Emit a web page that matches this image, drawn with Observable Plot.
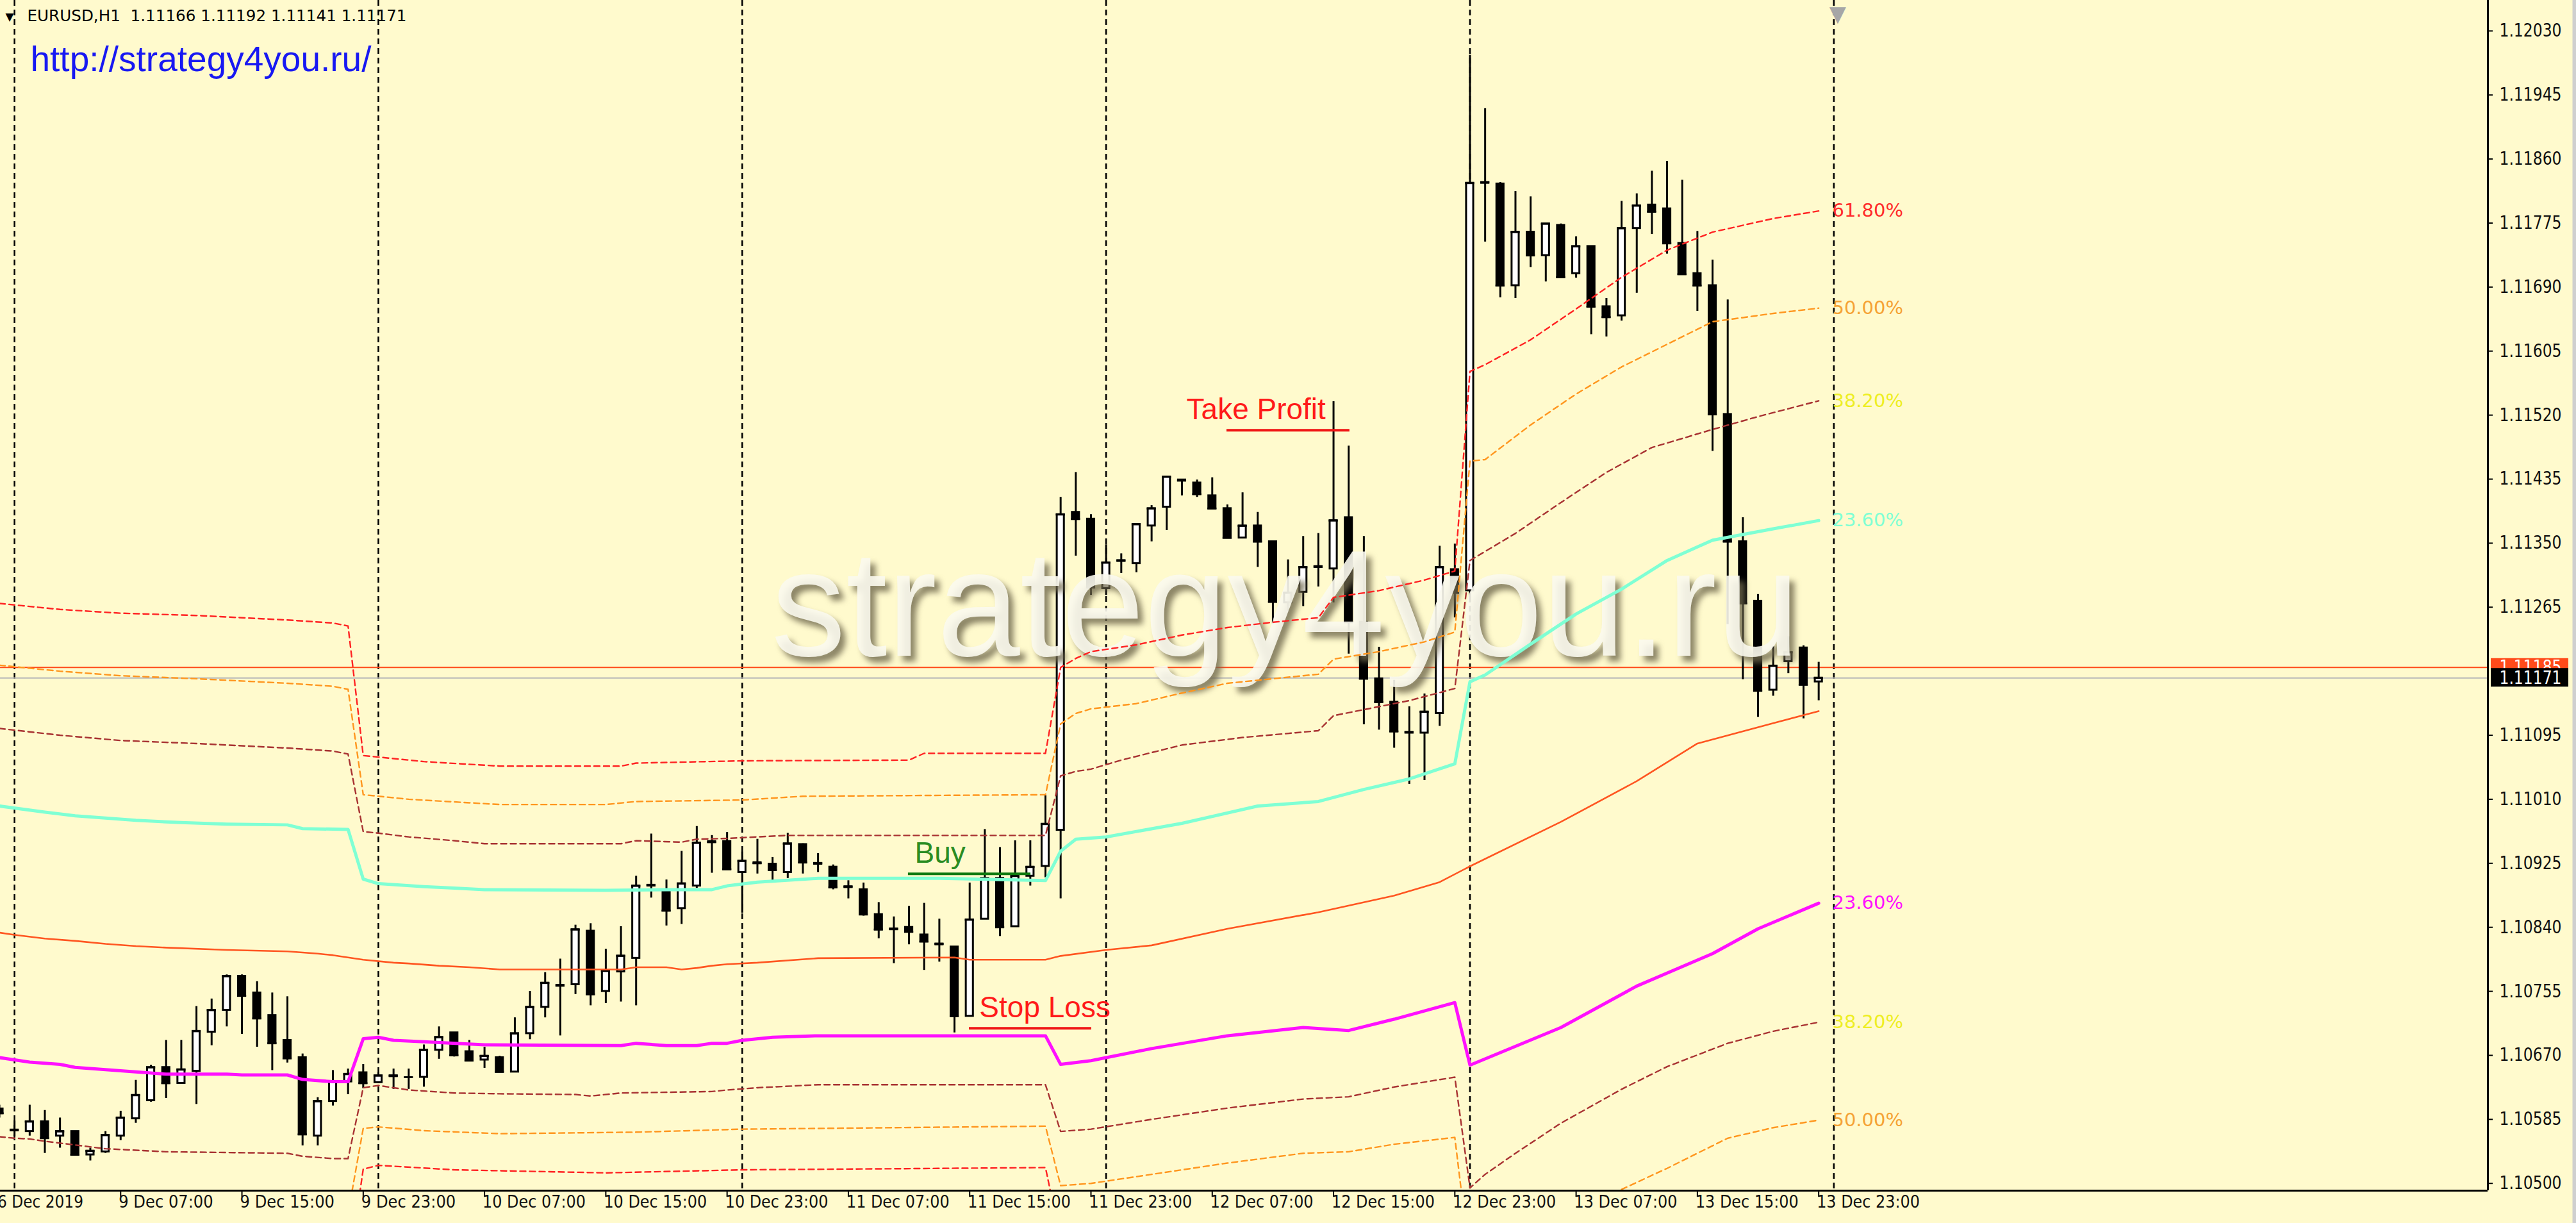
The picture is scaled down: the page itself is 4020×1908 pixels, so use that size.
<!DOCTYPE html>
<html><head><meta charset="utf-8">
<script src="https://cdn.jsdelivr.net/npm/d3@7"></script>
<script src="https://cdn.jsdelivr.net/npm/@observablehq/plot@0.6"></script>
<style>
html,body{margin:0;padding:0;background:#FFFACD;}
#chart{width:4020px;height:1908px;overflow:hidden;}
</style></head><body><div id="chart"></div>
<script>
// ---- time axis ----
const timeTickBars = [0,8,16,24,32,40,48,56,64,72,80,88,96,104,112,120];
const timeLabels = ["6 Dec 2019","9 Dec 07:00","9 Dec 15:00","9 Dec 23:00","10 Dec 07:00","10 Dec 15:00","10 Dec 23:00","11 Dec 07:00","11 Dec 15:00","11 Dec 23:00","12 Dec 07:00","12 Dec 15:00","12 Dec 23:00","13 Dec 07:00","13 Dec 15:00","13 Dec 23:00"];
const daySeparatorBars = [1,25,49,73,97,121];
// ---- price axis ----
const priceTicks = [1.12030,1.11945,1.11860,1.11775,1.11690,1.11605,1.11520,1.11435,1.11350,1.11265,1.11095,1.11010,1.10925,1.10840,1.10755,1.10670,1.10585,1.10500];
const askPrice = 1.11185;
const bidPrice = 1.11171;
// ---- candles (EURUSD H1) ----
const open = [1.10599,1.10570,1.10569,1.10582,1.10563,1.10569,1.10538,1.10542,1.10563,1.10586,
1.10610,1.10654,1.10633,1.10649,1.10701,1.10730,1.10775,1.10753,1.10723,1.10690,
1.10667,1.10563,1.10609,1.10635,1.10647,1.10634,1.10642,1.10641,1.10641,1.10677,
1.10700,1.10675,1.10664,1.10667,1.10648,1.10699,1.10734,1.10762,1.10764,1.10835,
1.10755,1.10781,1.10799,1.10895,1.10888,1.10865,1.10895,1.10954,1.10954,1.10913,
1.10926,1.10924,1.10913,1.10950,1.10924,1.10920,1.10893,1.10890,1.10857,1.10837,
1.10840,1.10830,1.10817,1.10814,1.10722,1.10851,1.10905,1.10841,1.10908,1.10921,
1.10969,1.11391,1.11382,1.11290,1.11326,1.11323,1.11373,1.11398,1.11434,1.11430,
1.11413,1.11396,1.11357,1.11373,1.11352,1.11271,1.11285,1.11318,1.11316,1.11384,
1.11245,1.11170,1.11139,1.11098,1.11098,1.11124,1.11315,1.11287,1.11828,1.11827,
1.11692,1.11763,1.11732,1.11772,1.11708,1.11744,1.11664,1.11652,1.11768,1.11799,
1.11794,1.11748,1.11708,1.11692,1.11521,1.11352,1.11273,1.11155,1.11193,1.11211,
1.11166];
const high = [1.10604,1.10583,1.10604,1.10597,1.10587,1.10569,1.10547,1.10569,1.10596,1.10637,
1.10657,1.10690,1.10690,1.10735,1.10745,1.10777,1.10777,1.10768,1.10753,1.10748,
1.10672,1.10614,1.10650,1.10652,1.10658,1.10647,1.10652,1.10652,1.10684,1.10708,
1.10700,1.10690,1.10681,1.10669,1.10720,1.10755,1.10780,1.10798,1.10843,1.10845,
1.10811,1.10841,1.10908,1.10964,1.10903,1.10941,1.10974,1.10962,1.10966,1.10940,
1.10957,1.10933,1.10965,1.10951,1.10938,1.10923,1.10902,1.10899,1.10873,1.10854,
1.10868,1.10872,1.10851,1.10814,1.10899,1.10970,1.10946,1.10955,1.10955,1.11015,
1.11411,1.11444,1.11388,1.11348,1.11336,1.11375,1.11400,1.11438,1.11434,1.11434,
1.11437,1.11401,1.11417,1.11391,1.11352,1.11328,1.11359,1.11363,1.11538,1.11479,
1.11359,1.11212,1.11168,1.11133,1.11150,1.11346,1.11349,1.11998,1.11927,1.11829,
1.11817,1.11810,1.11774,1.11774,1.11757,1.11744,1.11675,1.11804,1.11814,1.11844,
1.11857,1.11832,1.11764,1.11726,1.11673,1.11384,1.11282,1.11213,1.11226,1.11214,
1.11192];
const low = [1.10587,1.10562,1.10563,1.10540,1.10547,1.10538,1.10530,1.10540,1.10557,1.10580,
1.10608,1.10613,1.10633,1.10605,1.10683,1.10708,1.10698,1.10681,1.10650,1.10660,
1.10550,1.10550,1.10603,1.10618,1.10626,1.10633,1.10625,1.10625,1.10628,1.10665,
1.10668,1.10663,1.10653,1.10648,1.10648,1.10691,1.10720,1.10696,1.10751,1.10736,
1.10739,1.10741,1.10736,1.10879,1.10842,1.10844,1.10892,1.10912,1.10917,1.10859,
1.10911,1.10902,1.10905,1.10911,1.10913,1.10890,1.10878,1.10855,1.10825,1.10792,
1.10817,1.10783,1.10794,1.10700,1.10722,1.10851,1.10828,1.10841,1.10895,1.10906,
1.10878,1.11333,1.11281,1.11281,1.11310,1.11311,1.11352,1.11367,1.11413,1.11411,
1.11396,1.11357,1.11356,1.11318,1.11243,1.11260,1.11266,1.11292,1.11271,1.11203,
1.11109,1.11102,1.11078,1.11030,1.11035,1.11107,1.11251,1.11271,1.11750,1.11676,
1.11675,1.11716,1.11697,1.11702,1.11702,1.11627,1.11624,1.11645,1.11682,1.11760,
1.11734,1.11707,1.11658,1.11472,1.11242,1.11169,1.11119,1.11147,1.11177,1.11117,
1.11141];
const close = [1.10593,1.10571,1.10582,1.10560,1.10569,1.10538,1.10543,1.10564,1.10587,1.10617,
1.10654,1.10633,1.10651,1.10702,1.10730,1.10775,1.10749,1.10719,1.10686,1.10666,
1.10565,1.10609,1.10635,1.10645,1.10633,1.10643,1.10643,1.10641,1.10677,1.10694,
1.10670,1.10663,1.10669,1.10648,1.10699,1.10734,1.10766,1.10763,1.10837,1.10751,
1.10782,1.10802,1.10895,1.10896,1.10862,1.10898,1.10952,1.10953,1.10917,1.10928,
1.10925,1.10916,1.10951,1.10926,1.10925,1.10893,1.10894,1.10857,1.10837,1.10838,
1.10834,1.10821,1.10818,1.10722,1.10850,1.10905,1.10840,1.10908,1.10920,1.10977,
1.11388,1.11382,1.11291,1.11324,1.11327,1.11375,1.11396,1.11438,1.11433,1.11415,
1.11396,1.11357,1.11373,1.11352,1.11272,1.11284,1.11318,1.11319,1.11380,1.11245,
1.11170,1.11139,1.11100,1.11099,1.11126,1.11318,1.11284,1.11828,1.11829,1.11692,
1.11763,1.11732,1.11774,1.11703,1.11744,1.11664,1.11650,1.11768,1.11798,1.11790,
1.11748,1.11707,1.11692,1.11521,1.11352,1.11270,1.11154,1.11187,1.11205,1.11162,
1.11171];
// ---- indicator levels: [bar, price] ----
const middleLine = [[0,1.10833],[1,1.10830],[3,1.10825],[5,1.10822],[7,1.10818],[9,1.10815],[11,1.10813],[15,1.10810],[19,1.10808],[21,1.10805],[22,1.10803],[23,1.10800],[24,1.10797],[26,1.10793],[27,1.10792],[29,1.10789],[31,1.10787],[33,1.10784],[41,1.10784],[42,1.10787],[44,1.10787],[45,1.10784],[46,1.10786],[47,1.10789],[48,1.10791],[50,1.10793],[54,1.10799],[63,1.10800],[64,1.10797],[69,1.10797],[70,1.10802],[73,1.10810],[76,1.10816],[81,1.10838],[87,1.10860],[92,1.10882],[95,1.10900],[97,1.10921],[103,1.10980],[108,1.11034],[112,1.11084],[117,1.11111],[120,1.11127]];
const upper618 = [[0,1.11270],[4,1.11262],[8,1.11257],[13,1.11254],[19,1.11248],[22,1.11244],[23,1.11240],[24,1.11068],[25,1.11066],[28,1.11060],[33,1.11054],[41,1.11054],[42,1.11058],[49,1.11061],[60,1.11062],[61,1.11071],[69,1.11071],[70,1.11185],[71,1.11197],[72,1.11206],[75,1.11215],[78,1.11228],[81,1.11238],[84,1.11245],[87,1.11251],[88,1.11278],[91,1.11287],[94,1.11301],[96,1.11313],[97,1.11578],[98,1.11587],[101,1.11620],[104,1.11661],[107,1.11703],[110,1.11739],[113,1.11763],[117,1.11781],[120,1.11791]];
const upper500 = [[0,1.11188],[4,1.11180],[8,1.11174],[13,1.11170],[19,1.11164],[22,1.11160],[23,1.11156],[24,1.11016],[25,1.11014],[27,1.11010],[33,1.11003],[40,1.11003],[42,1.11007],[49,1.11009],[53,1.11014],[69,1.11016],[70,1.11110],[71,1.11124],[72,1.11130],[75,1.11137],[78,1.11151],[81,1.11164],[84,1.11170],[87,1.11176],[88,1.11196],[91,1.11206],[94,1.11219],[96,1.11232],[97,1.11459],[98,1.11461],[101,1.11507],[104,1.11548],[107,1.11584],[110,1.11614],[113,1.11644],[117,1.11655],[120,1.11662]];
const upper382 = [[0,1.11104],[4,1.11095],[8,1.11088],[13,1.11084],[19,1.11078],[22,1.11074],[23,1.11070],[24,1.10967],[25,1.10965],[27,1.10960],[30,1.10955],[32,1.10951],[41,1.10951],[42,1.10955],[45,1.10953],[46,1.10957],[48,1.10958],[49,1.10959],[52,1.10962],[69,1.10962],[70,1.11041],[71,1.11047],[72,1.11050],[74,1.11062],[78,1.11082],[82,1.11092],[87,1.11101],[88,1.11121],[93,1.11141],[96,1.11157],[97,1.11327],[100,1.11363],[103,1.11404],[106,1.11444],[109,1.11477],[113,1.11501],[116,1.11518],[120,1.11539]];
const upper236 = [[0,1.11001],[3,1.10993],[5,1.10988],[9,1.10982],[12,1.10979],[15,1.10977],[19,1.10976],[20,1.10971],[23,1.10970],[24,1.10904],[25,1.10898],[28,1.10894],[30,1.10892],[32,1.10890],[40,1.10889],[44,1.10890],[47,1.10890],[48,1.10895],[50,1.10900],[54,1.10905],[62,1.10905],[69,1.10902],[70,1.10941],[71,1.10957],[73,1.10960],[78,1.10978],[83,1.11001],[87,1.11007],[90,1.11023],[93,1.11037],[96,1.11057],[97,1.11166],[98,1.11175],[101,1.11216],[104,1.11256],[107,1.11289],[110,1.11327],[112,1.11345],[113,1.11354],[117,1.11369],[120,1.11380]];
const lower236 = [[0,1.10667],[1,1.10664],[2,1.10661],[4,1.10658],[5,1.10654],[7,1.10651],[9,1.10648],[11,1.10645],[15,1.10645],[16,1.10644],[19,1.10644],[20,1.10638],[22,1.10635],[23,1.10635],[24,1.10692],[25,1.10694],[26,1.10690],[28,1.10688],[32,1.10684],[41,1.10683],[42,1.10686],[44,1.10683],[46,1.10683],[47,1.10686],[48,1.10686],[49,1.10690],[51,1.10694],[54,1.10696],[69,1.10696],[70,1.10658],[72,1.10663],[76,1.10679],[81,1.10696],[86,1.10707],[89,1.10703],[92,1.10718],[96,1.10740],[97,1.10657],[103,1.10707],[108,1.10762],[113,1.10805],[116,1.10838],[120,1.10872]];
const lower382 = [[0,1.10562],[1,1.10560],[2,1.10559],[3,1.10556],[5,1.10551],[7,1.10546],[11,1.10542],[15,1.10541],[19,1.10540],[20,1.10536],[22,1.10533],[23,1.10533],[24,1.10627],[25,1.10630],[27,1.10624],[30,1.10620],[33,1.10619],[38,1.10618],[39,1.10616],[41,1.10620],[47,1.10622],[48,1.10624],[50,1.10627],[54,1.10631],[69,1.10631],[70,1.10569],[72,1.10572],[76,1.10585],[81,1.10600],[86,1.10612],[89,1.10615],[92,1.10628],[96,1.10641],[97,1.10494],[98,1.10512],[100,1.10540],[103,1.10580],[107,1.10625],[110,1.10655],[114,1.10686],[117,1.10702],[120,1.10714]];
const lower500 = [[22,1.10465],[23,1.10460],[24,1.10573],[25,1.10575],[28,1.10570],[33,1.10566],[42,1.10568],[49,1.10572],[69,1.10576],[70,1.10497],[72,1.10500],[76,1.10512],[81,1.10527],[86,1.10540],[89,1.10542],[92,1.10552],[96,1.10561],[97,1.10395],[100,1.10430],[103,1.10460],[107,1.10492],[110,1.10520],[114,1.10560],[117,1.10574],[120,1.10584]];
const lower618 = [[22,1.10385],[23,1.10380],[24,1.10519],[25,1.10524],[30,1.10518],[40,1.10514],[49,1.10518],[69,1.10521],[70,1.10425]];
const levelLabels = ["61.80%","50.00%","38.20%","23.60%","23.60%","38.20%","50.00%"];
const levelLabelPrices = [1.11791,1.11662,1.11539,1.11380,1.10872,1.10714,1.10584];
const levelLabelColors = ["#ff2a2a","#f5a234","#eeee22","#7fffd4","#ff10ff","#eeee22","#f5a234"];
// ---- trade annotations ----
const tradeNames = ["Take Profit","Buy","Stop Loss"];
const tradePrices = [1.11500,1.10911,1.10706];
const tradeFromBar = [80.96,59.95,63.97];
const tradeToBar = [89.07,68.03,72.04];
const tradeTextBar = [78.3,60.38,64.64];
const tradeColors = ["#f01414","#0f7a0f","#f01414"];
const tradeTextColors = ["#ff1a1a","#2a8c22","#ff1a1a"];

// ---- build ----
const candles = open.map((o,i)=>({i, o, h: high[i], l: low[i], c: close[i]}));
const trades = tradeNames.map((n,k)=>({n, p: tradePrices[k], x1: tradeFromBar[k], x2: tradeToBar[k], tx: tradeTextBar[k], col: tradeColors[k], tcol: tradeTextColors[k]}));
const lvl = levelLabels.map((t,k)=>({t, p: levelLabelPrices[k], col: levelLabelColors[k]}));
const xDomain = [0.0634, 164.14];
const yDomain = [1.104904, 1.120707];
const pxY = 8.51e-6;     // price per pixel
const pxX = 1/23.66;     // bars per pixel
const bg = "#FFFACD";
const headerText = "EURUSD,H1\u00a0\u00a01.11166 1.11192 1.11141 1.11171";
const dashLine = (data, stroke) => Plot.line(data, {x: d=>d[0], y: d=>d[1], stroke, strokeWidth: 2.4, strokeDasharray: "9,6", clip: true});

const chart = Plot.plot({
  width: 4020, height: 1908,
  marginLeft: 0, marginRight: 138, marginTop: 0, marginBottom: 51,
  style: {background: bg, fontFamily: "DejaVu Sans, sans-serif"},
  x: {type: "linear", domain: xDomain, axis: null},
  y: {type: "linear", domain: yDomain, axis: null},
  marks: [
    Plot.ruleX(daySeparatorBars, {x: d=>d, stroke: "#000", strokeWidth: 2.6, strokeDasharray: "9,6"}),
    Plot.ruleY([askPrice], {stroke: "#ff4a1a", strokeWidth: 2}),
    Plot.ruleY([bidPrice], {stroke: "#b8b8b8", strokeWidth: 2}),
    Plot.ruleX(candles, {x: "i", y1: "l", y2: "h", stroke: "#000", strokeWidth: 3}),
    Plot.rect(candles, {x1: d=>d.i-0.235, x2: d=>d.i+0.235, y1: "o", y2: "c", fill: d=>d.c>=d.o?"#ffffff":"#000000", stroke: "#000", strokeWidth: 3}),
    Plot.ruleY(candles, {y: "c", x1: d=>d.i-0.3, x2: d=>d.i+0.3, stroke: "#000", strokeWidth: 3}),
    Plot.text(["strategy4you.ru"], {frameAnchor: "top-left", dx: 1211, dy: 1031, textAnchor: "start", lineAnchor: "bottom", fontSize: 236, fontFamily: "Liberation Sans, Arial, sans-serif", fill: "#6f684c", fillOpacity: 0.8}),
    Plot.text(["strategy4you.ru"], {frameAnchor: "top-left", dx: 1203, dy: 1022, textAnchor: "start", lineAnchor: "bottom", fontSize: 236, fontFamily: "Liberation Sans, Arial, sans-serif", fill: "#fbf9ee", fillOpacity: 0.9}),
    dashLine(lower618, "#ff2222"),
    dashLine(lower500, "#ff961e"),
    dashLine(lower382, "#a83232"),
    dashLine(upper618, "#ff2222"),
    dashLine(upper500, "#ff961e"),
    dashLine(upper382, "#a83232"),
    Plot.line(middleLine, {x: d=>d[0], y: d=>d[1], stroke: "#ff5520", strokeWidth: 2.6, clip: true}),
    Plot.line(upper236, {x: d=>d[0], y: d=>d[1], stroke: "#7fffd4", strokeWidth: 5, clip: true}),
    Plot.line(lower236, {x: d=>d[0], y: d=>d[1], stroke: "#ff10ff", strokeWidth: 5, clip: true}),
    Plot.text(lvl, {x: 120.9, y: "p", text: "t", fill: "col", textAnchor: "start", fontSize: 29, fontFamily: "DejaVu Sans, sans-serif"}),
    Plot.ruleY(trades, {y: "p", x1: "x1", x2: "x2", stroke: "col", strokeWidth: 4}),
    Plot.text(trades, {x: "tx", y: "p", text: "n", fill: "tcol", textAnchor: "start", lineAnchor: "bottom", dy: -17, fontSize: 46, fontFamily: "Liberation Sans, Arial, sans-serif"}),
    Plot.ruleY([yDomain[0]], {stroke: "#000", strokeWidth: 3}),
    Plot.ruleX([xDomain[1]], {stroke: "#000", strokeWidth: 3}),
    Plot.ruleX([xDomain[1] + 135*pxX], {y1: yDomain[0] - 51*pxY, y2: yDomain[1], stroke: "#cfcfcf", strokeWidth: 6}),
    Plot.ruleY(priceTicks, {y: d=>d, x1: xDomain[1], x2: xDomain[1] + 8*pxX, stroke: "#000", strokeWidth: 2}),
    Plot.text(priceTicks, {y: d=>d, text: d=>d.toFixed(5), frameAnchor: "right", dx: 18, textAnchor: "start", fontSize: 28, fontFamily: "DejaVu Sans Condensed, DejaVu Sans, sans-serif", fill: "#101010"}),
    Plot.rect([askPrice], {y1: d=>d - 14*pxY, y2: d=>d + 14*pxY, x1: xDomain[1] + 5*pxX, x2: xDomain[1] + 126*pxX, fill: "#ff4a1a"}),
    Plot.text([askPrice], {y: d=>d, text: d=>d.toFixed(5), frameAnchor: "right", dx: 18, textAnchor: "start", fontSize: 28, fontFamily: "DejaVu Sans Condensed, DejaVu Sans, sans-serif", fill: "#fff"}),
    Plot.rect([bidPrice], {y1: d=>d - 14*pxY, y2: d=>d + 15*pxY, x1: xDomain[1] + 5*pxX, x2: xDomain[1] + 126*pxX, fill: "#000"}),
    Plot.text([bidPrice], {y: d=>d, text: d=>d.toFixed(5), frameAnchor: "right", dx: 18, textAnchor: "start", fontSize: 28, fontFamily: "DejaVu Sans Condensed, DejaVu Sans, sans-serif", fill: "#fff"}),
    Plot.ruleX(timeTickBars, {x: d=>d, y1: yDomain[0], y2: yDomain[0] - 10*pxY, stroke: "#000", strokeWidth: 2}),
    Plot.text(timeTickBars, {x: d=>d, text: (d,i)=>timeLabels[i], frameAnchor: "bottom", dy: 26, dx: -3, textAnchor: "start", fontSize: 27, fontFamily: "DejaVu Sans Condensed, DejaVu Sans, sans-serif", fill: "#101010"}),
    Plot.text(["▼"], {frameAnchor: "top-left", dx: 8, dy: 31, textAnchor: "start", lineAnchor: "bottom", fontSize: 17, fill: "#000"}),
    Plot.text([headerText], {frameAnchor: "top-left", dx: 42, dy: 32, textAnchor: "start", lineAnchor: "bottom", fontSize: 24, fontFamily: "DejaVu Sans, sans-serif", fill: "#000"}),
    Plot.text(["http://strategy4you.ru/"], {frameAnchor: "top-left", dx: 47, dy: 110, textAnchor: "start", lineAnchor: "bottom", fontSize: 55, fontFamily: "Liberation Sans, Arial, sans-serif", fill: "#1818f2"}),
    Plot.text(["▼"], {x: 121.25, frameAnchor: "top", dy: 8, fontSize: 34, fill: "#a6a6a6"})
  ]
});
document.getElementById("chart").appendChild(chart);
// text width tuning (matches the narrow terminal fonts)
const priceSet = new Set(priceTicks.map(d=>d.toFixed(5)).concat([askPrice.toFixed(5), bidPrice.toFixed(5)]));
const timeSet = new Set(timeLabels);
d3.select(chart).selectAll("text").each(function(){
  const t = this.textContent;
  const fix = (w) => { this.setAttribute("textLength", w); this.setAttribute("lengthAdjust", "spacingAndGlyphs"); };
  if (priceSet.has(t)) fix(97);
  else if (timeSet.has(t)) fix(t.length*13.4);
  else if (t === headerText) fix(592);
  else if (t === "strategy4you.ru") fix(1605);
});
// shadow blur: the first watermark text drawn is the shadow
const wm = d3.select(chart).selectAll("text").filter(function(){ return this.textContent === "strategy4you.ru"; }).nodes();
if (wm.length) wm[0].style.filter = "blur(5px)";
</script></body></html>
